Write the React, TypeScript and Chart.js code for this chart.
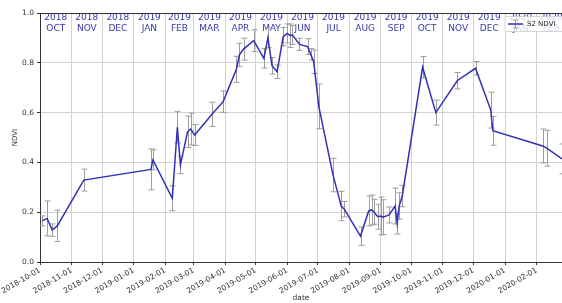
import React, { useEffect, useRef } from "react";
import { Chart, registerables } from "chart.js";

Chart.register(...registerables);

// ---------------- data ----------------
const seriesLabel = "S2 NDVI";

const obsDates = [
  "2018-10-03", "2018-10-08", "2018-10-13", "2018-10-18", "2018-11-13",
  "2019-01-18", "2019-01-20", "2019-02-08", "2019-02-13", "2019-02-16",
  "2019-02-23", "2019-02-26", "2019-03-02", "2019-03-19", "2019-03-30",
  "2019-04-12", "2019-04-15", "2019-04-19", "2019-04-29", "2019-05-09",
  "2019-05-13", "2019-05-17", "2019-05-22", "2019-05-28", "2019-06-01",
  "2019-06-04", "2019-06-06", "2019-06-13", "2019-06-21", "2019-06-24",
  "2019-06-27", "2019-07-02", "2019-07-16", "2019-07-24", "2019-07-27",
  "2019-08-12", "2019-08-20", "2019-08-23", "2019-08-25", "2019-08-29",
  "2019-09-01", "2019-09-03", "2019-09-09", "2019-09-15", "2019-09-17",
  "2019-09-19", "2019-09-22", "2019-10-12", "2019-10-25", "2019-11-15",
  "2019-12-03", "2019-12-18", "2019-12-20", "2020-02-07", "2020-02-11",
  "2020-02-26",
];

const ndvi = [
  0.165, 0.175, 0.128, 0.145, 0.329,
  0.372, 0.41, 0.256, 0.541, 0.39,
  0.523, 0.534, 0.51, 0.593, 0.644,
  0.774, 0.832, 0.855, 0.889, 0.818,
  0.901, 0.788, 0.764, 0.905, 0.918,
  0.909, 0.912, 0.874, 0.865, 0.834,
  0.804, 0.625, 0.349, 0.225, 0.212,
  0.104, 0.205, 0.209, 0.202, 0.182,
  0.185, 0.18, 0.189, 0.225, 0.155,
  0.225, 0.265, 0.782, 0.6, 0.728,
  0.778, 0.61, 0.527, 0.466, 0.457,
  0.414,
];

const ndviErr = [
  0.02, 0.07, 0.025, 0.063, 0.044,
  0.082, 0.04, 0.05, 0.063, 0.035,
  0.063, 0.064, 0.042, 0.049, 0.043,
  0.052, 0.046, 0.044, 0.044, 0.039,
  0.04, 0.033, 0.027, 0.037, 0.038,
  0.047, 0.038, 0.024, 0.032, 0.023,
  0.047, 0.09, 0.067, 0.059, 0.031,
  0.037, 0.06, 0.06, 0.05, 0.05,
  0.076, 0.07, 0.032, 0.072, 0.043,
  0.053, 0.043, 0.043, 0.05, 0.033,
  0.027, 0.072, 0.058, 0.068, 0.072,
  0.06,
];

const xTickDates = [
  "2018-10-01", "2018-11-01", "2018-12-01", "2019-01-01", "2019-02-01",
  "2019-03-01", "2019-04-01", "2019-05-01", "2019-06-01", "2019-07-01",
  "2019-08-01", "2019-09-01", "2019-10-01", "2019-11-01", "2019-12-01",
  "2020-01-01", "2020-02-01",
];

const monthYears = [
  "2018", "2018", "2018", "2019", "2019", "2019", "2019", "2019", "2019",
  "2019", "2019", "2019", "2019", "2019", "2019", "2020", "2020",
];
const monthNames = [
  "OCT", "NOV", "DEC", "JAN", "FEB", "MAR", "APR", "MAY", "JUN",
  "JUL", "AUG", "SEP", "OCT", "NOV", "DEC", "JAN", "FEB",
];

const yTicks = [0, 0.2, 0.4, 0.6, 0.8, 1.0];
const xMinDate = "2018-10-01";
const xMaxDate = "2020-02-26";

// ---------------- helpers ----------------
const DAY = 86400000;
const BASE = Date.UTC(2018, 9, 1);
const toDay = (s: string) => {
  const [y, m, d] = s.split("-").map(Number);
  return (Date.UTC(y, m - 1, d) - BASE) / DAY;
};
const nextMonthDay = (s: string) => {
  const [y, m] = s.split("-").map(Number);
  return (Date.UTC(y, m, 1) - BASE) / DAY;
};

const FONT = "'DejaVu Sans', sans-serif";
const LINE_COLOR = "#3131b5";
const TEXT_BLUE = "#3838ae";
const ERR_COLOR = "#9d9d9d";
const GRID_COLOR = "#d2d2d2";
const AXIS_COLOR = "#333333";

const drawErr = (ctx: CanvasRenderingContext2D, x: number, y1: number, y2: number, cap: number) => {
  ctx.beginPath();
  ctx.moveTo(x, y1);
  ctx.lineTo(x, y2);
  ctx.moveTo(x - cap, y1);
  ctx.lineTo(x + cap, y1);
  ctx.moveTo(x - cap, y2);
  ctx.lineTo(x + cap, y2);
  ctx.stroke();
};

const decorPlugin = {
  id: "decor",
  beforeDatasetsDraw(chart: any) {
    const { ctx, chartArea, scales } = chart;
    const xs = scales.x;
    const ys = scales.y;
    // month labels on top
    ctx.save();
    ctx.beginPath();
    ctx.rect(chartArea.left, chartArea.top, chartArea.right - chartArea.left, chartArea.bottom - chartArea.top);
    ctx.clip();
    ctx.fillStyle = TEXT_BLUE;
    ctx.font = `9px ${FONT}`;
    ctx.textAlign = "center";
    ctx.textBaseline = "middle";
    xTickDates.forEach((d, i) => {
      const c = (toDay(d) + nextMonthDay(d)) / 2;
      const px = xs.getPixelForValue(c);
      ctx.fillText(monthYears[i], px, chartArea.top + 4.5);
      ctx.fillText(monthNames[i], px, chartArea.top + 15.5);
    });
    // error bars
    ctx.strokeStyle = ERR_COLOR;
    ctx.lineWidth = 1;
    obsDates.forEach((d, i) => {
      const px = Math.round(xs.getPixelForValue(toDay(d))) + 0.5;
      const y1 = ys.getPixelForValue(ndvi[i] + ndviErr[i]);
      const y2 = ys.getPixelForValue(ndvi[i] - ndviErr[i]);
      drawErr(ctx, px, y1, y2, 3);
    });
    ctx.restore();
  },
  afterDatasetsDraw(chart: any) {
    const { ctx, chartArea } = chart;
    ctx.save();
    // top spine
    ctx.strokeStyle = AXIS_COLOR;
    ctx.lineWidth = 1;
    ctx.beginPath();
    ctx.moveTo(chartArea.left, Math.round(chartArea.top) + 0.5);
    ctx.lineTo(chartArea.right, Math.round(chartArea.top) + 0.5);
    ctx.stroke();
    // legend
    const lx = 505, ly = 16.5, lw = 70, lh = 15;
    ctx.fillStyle = "rgba(255,255,255,0.8)";
    ctx.strokeStyle = "rgba(204,204,204,0.8)";
    ctx.beginPath();
    ctx.roundRect(lx, ly, lw, lh, 2);
    ctx.fill();
    ctx.stroke();
    const my = ly + lh / 2;
    ctx.strokeStyle = ERR_COLOR;
    drawErr(ctx, 515.5, my - 4, my + 4, 2.5);
    ctx.strokeStyle = LINE_COLOR;
    ctx.lineWidth = 1.5;
    ctx.beginPath();
    ctx.moveTo(508, my);
    ctx.lineTo(523, my);
    ctx.stroke();
    ctx.fillStyle = "#222";
    ctx.font = `7px ${FONT}`;
    ctx.textAlign = "left";
    ctx.textBaseline = "middle";
    ctx.fillText(seriesLabel, 527, my);
    ctx.restore();
  },
};

export default function App() {
  const ref = useRef<HTMLCanvasElement | null>(null);
  useEffect(() => {
    document.body.style.margin = "0";
    if (!ref.current) return;
    const chart = new Chart(ref.current, {
      type: "line",
      data: {
        datasets: [
          {
            label: seriesLabel,
            data: obsDates.map((d, i) => ({ x: toDay(d), y: ndvi[i] })),
            borderColor: LINE_COLOR,
            backgroundColor: LINE_COLOR,
            borderWidth: 1.5,
            pointRadius: 0,
            tension: 0,
            fill: false,
          },
        ],
      },
      options: {
        animation: false,
        responsive: false,
        devicePixelRatio: 1,
        layout: { padding: { top: 13, left: 0, right: 0, bottom: 0 } },
        plugins: { legend: { display: false }, tooltip: { enabled: false } },
        scales: {
          x: {
            type: "linear",
            min: toDay(xMinDate),
            max: toDay(xMaxDate),
            afterBuildTicks: (scale: any) => {
              scale.ticks = xTickDates.map((d) => ({ value: toDay(d) }));
            },
            afterFit: (scale: any) => {
              scale.height = 41;
              scale.paddingLeft = 0;
              scale.paddingRight = 0;
            },
            ticks: {
              autoSkip: false,
              minRotation: 30,
              maxRotation: 30,
              padding: 1,
              color: "#333",
              font: { family: FONT, size: 7.5 },
              callback: (_v: any, i: number) => xTickDates[i],
            },
            grid: { color: GRID_COLOR, tickColor: AXIS_COLOR, tickLength: 3 },
            border: { color: AXIS_COLOR, width: 1 },
            title: { display: true, text: "date", color: "#333", font: { family: FONT, size: 7.5 }, padding: 0 },
          },
          y: {
            type: "linear",
            min: 0,
            max: 1,
            afterBuildTicks: (scale: any) => {
              scale.ticks = yTicks.map((v) => ({ value: v }));
            },
            afterFit: (scale: any) => {
              scale.width = 40;
              scale.paddingTop = 0;
              scale.paddingBottom = 0;
            },
            ticks: {
              padding: 3,
              color: "#333",
              font: { family: FONT, size: 7.5 },
              callback: (v: any) => Number(v).toFixed(1),
            },
            grid: { color: GRID_COLOR, tickColor: AXIS_COLOR, tickLength: 3 },
            border: { color: AXIS_COLOR, width: 1 },
            title: { display: true, text: "NDVI", color: "#333", font: { family: FONT, size: 7 }, padding: { top: 11, bottom: 0 } },
          },
        },
      },
      plugins: [decorPlugin],
    } as any);
    return () => chart.destroy();
  }, []);
  return (
    <div style={{ width: 562, height: 303, overflow: "hidden" }}>
      <canvas ref={ref} width={562} height={303} style={{ display: "block" }} />
    </div>
  );
}
